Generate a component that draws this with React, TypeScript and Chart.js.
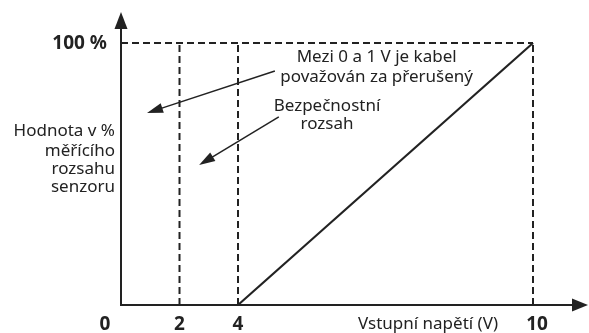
import React, { useEffect, useRef } from 'react';
import { Chart, registerables, LinearScale } from 'chart.js';

Chart.register(...registerables);

// ---- data ----
const signalX = [4, 10];
const signalY = [0, 100];
const dashedVerticalX = [2, 4, 10];
const dashedTopY = 100;
const xTickValues = [0, 2, 4, 10];
const xTickLabels = ['0', '2', '4', '10'];
const yTickValues = [100];
const yTickLabels = ['100 %'];
const xAxisTitle = 'Vstupní napětí (V)';
const yAxisTitle = ['Hodnota v %', 'měřícího', 'rozsahu', 'senzoru'];
const note1 = ['Mezi 0 a 1 V je kabel', 'považován za přerušený'];
const note2 = ['Bezpečnostní', 'rozsah'];

// schematic (non-uniform) x axis: breakpoints in volts and their fraction of the axis
const X_BREAKS = [0, 4, 10];
const X_FRACTIONS = [0, 0.284, 1];

class PiecewiseScale extends LinearScale {
  static id = 'piecewise';
  static defaults = LinearScale.defaults;
  toDecimal(v: number) {
    for (let i = 0; i < X_BREAKS.length - 1; i++) {
      const a = X_BREAKS[i], b = X_BREAKS[i + 1];
      if (v <= b || i === X_BREAKS.length - 2) {
        const t = (v - a) / (b - a);
        return X_FRACTIONS[i] + t * (X_FRACTIONS[i + 1] - X_FRACTIONS[i]);
      }
    }
    return 0;
  }
  getPixelForValue(value: number) {
    return this.getPixelForDecimal(this.toDecimal(value));
  }
  getValueForPixel(pixel: number) {
    const d = this.getDecimalForPixel(pixel);
    for (let i = 0; i < X_FRACTIONS.length - 1; i++) {
      const a = X_FRACTIONS[i], b = X_FRACTIONS[i + 1];
      if (d <= b || i === X_FRACTIONS.length - 2) {
        const t = (d - a) / (b - a);
        return X_BREAKS[i] + t * (X_BREAKS[i + 1] - X_BREAKS[i]);
      }
    }
    return 0;
  }
}
Chart.register(PiecewiseScale as any);

const INK = '#222222';
const FONT = '"Noto Sans", "DejaVu Sans", sans-serif';

function arrowHead(ctx: CanvasRenderingContext2D, fx: number, fy: number, tx: number, ty: number, len: number, half: number) {
  const ang = Math.atan2(ty - fy, tx - fx);
  ctx.beginPath();
  ctx.moveTo(tx, ty);
  ctx.lineTo(tx - len * Math.cos(ang) + half * Math.sin(ang), ty - len * Math.sin(ang) - half * Math.cos(ang));
  ctx.lineTo(tx - len * Math.cos(ang) - half * Math.sin(ang), ty - len * Math.sin(ang) + half * Math.cos(ang));
  ctx.closePath();
  ctx.fill();
}

const decorPlugin = {
  id: 'decor',
  afterDraw(chart: any) {
    const ctx: CanvasRenderingContext2D = chart.ctx;
    const xs = chart.scales.x;
    const ys = chart.scales.y;
    const x0 = xs.getPixelForValue(0);
    const y0 = ys.getPixelForValue(0);
    ctx.save();
    ctx.strokeStyle = INK;
    ctx.fillStyle = INK;
    ctx.lineWidth = 2;
    ctx.setLineDash([]);
    // axes
    ctx.beginPath();
    ctx.moveTo(x0, y0);
    ctx.lineTo(x0, 24);
    ctx.moveTo(x0 - 1, y0);
    ctx.lineTo(576, y0);
    ctx.stroke();
    arrowHead(ctx, x0, y0, x0, 12, 17, 6.5);
    arrowHead(ctx, x0, y0, 588, y0, 16, 6.5);

    // tick labels
    ctx.font = `bold 19px ${FONT}`;
    ctx.textBaseline = 'middle';
    ctx.textAlign = 'center';
    xTickValues.forEach((v, i) => {
      let px = xs.getPixelForValue(v);
      if (v === 0) px -= 16;
      ctx.fillText(xTickLabels[i], px + (v === 10 ? 4 : 0), y0 + 20);
    });
    ctx.textAlign = 'right';
    yTickValues.forEach((v, i) => {
      ctx.fillText(yTickLabels[i], x0 - 14, ys.getPixelForValue(v) + 1);
    });

    // axis titles
    ctx.font = `17px ${FONT}`;
    ctx.textAlign = 'center';
    ctx.fillText(xAxisTitle, 428, y0 + 19);
    ctx.textAlign = 'right';
    const ly = [131, 151, 169, 187];
    yAxisTitle.forEach((t, i) => ctx.fillText(t, x0 - 6, ly[i]));

    // notes
    ctx.textAlign = 'center';
    const p = (vx: number, vy: number) => [xs.getPixelForValue(vx), ys.getPixelForValue(vy)];
    const [n1x, n1y] = p(6.82, 94.6);
    ctx.fillText(note1[0], n1x, n1y);
    ctx.fillText(note1[1], n1x, n1y + 20);
    const [n2x, n2y] = p(5.81, 76);
    ctx.fillText(note2[0], n2x, n2y);
    ctx.fillText(note2[1], n2x, n2y + 18);

    // pointer arrows
    const arrows = [
      [4.75, 89.3, 0.89, 73.3],
      [4.83, 71.8, 2.67, 53.4],
    ];
    ctx.lineWidth = 1.5;
    arrows.forEach(([ax, ay, bx, by]) => {
      const [fx, fy] = p(ax, ay);
      const [tx, ty] = p(bx, by);
      const ang = Math.atan2(ty - fy, tx - fx);
      ctx.beginPath();
      ctx.moveTo(fx, fy);
      ctx.lineTo(tx - 10 * Math.cos(ang), ty - 10 * Math.sin(ang));
      ctx.stroke();
      arrowHead(ctx, fx, fy, tx, ty, 16, 5);
    });
    ctx.restore();
  },
};

export default function App() {
  const ref = useRef<HTMLCanvasElement>(null);
  useEffect(() => {
    document.body.style.margin = '0';
    const dashed = { borderColor: INK, borderWidth: 2, borderDash: [7, 4], pointRadius: 0, fill: false, clip: false as any };
    const datasets: any[] = [
      {
        label: 'signal',
        data: signalX.map((x, i) => ({ x, y: signalY[i] })),
        borderColor: INK,
        borderWidth: 2.2,
        pointRadius: 0,
        fill: false,
        clip: false,
      },
      ...dashedVerticalX.map((x) => ({
        ...dashed,
        label: `v${x}`,
        data: [{ x, y: 0 }, { x, y: dashedTopY }],
      })),
      {
        ...dashed,
        label: 'top',
        data: [{ x: 0, y: dashedTopY }, { x: 10, y: dashedTopY }],
      },
    ];
    const chart = new Chart(ref.current!, {
      type: 'line',
      data: { datasets },
      options: {
        animation: false,
        responsive: false,
        layout: { padding: { left: 121, right: 56, top: 43, bottom: 28 } },
        plugins: { legend: { display: false }, tooltip: { enabled: false } },
        scales: {
          x: { type: 'piecewise' as any, min: 0, max: 10, display: false },
          y: { type: 'linear', min: 0, max: 100, display: false },
        },
      },
      plugins: [decorPlugin],
    });
    return () => chart.destroy();
  }, []);
  return (
    <div style={{ width: 589, height: 333, background: '#fff' }}>
      <canvas ref={ref} width={589} height={333} style={{ display: 'block' }} />
    </div>
  );
}
